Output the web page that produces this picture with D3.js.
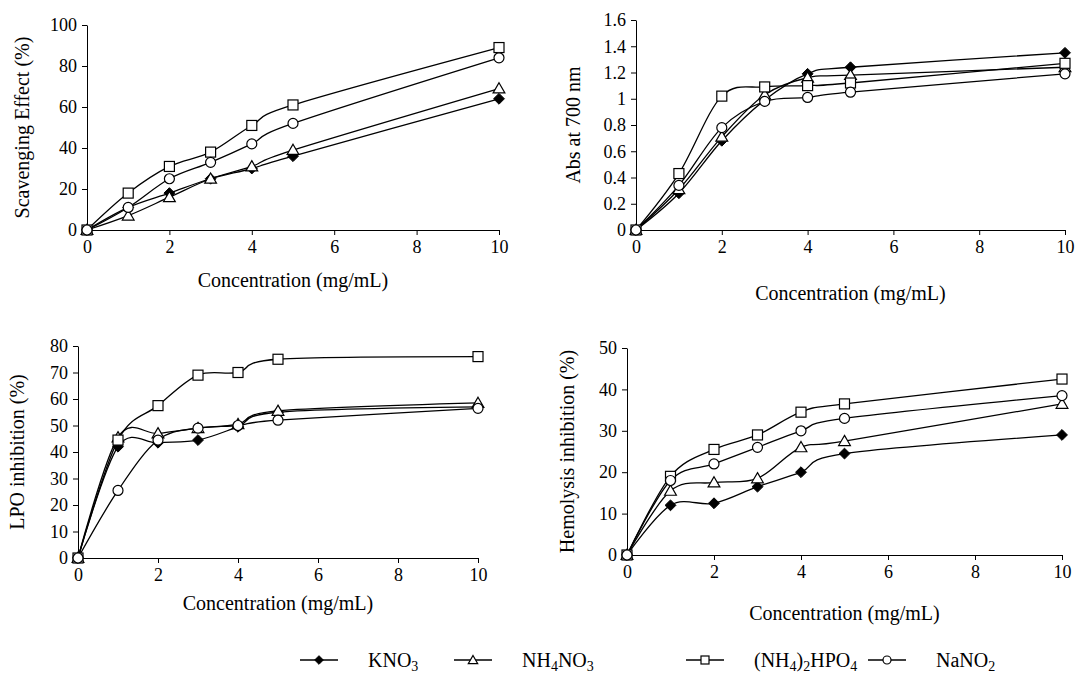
<!DOCTYPE html>
<html>
<head>
<meta charset="utf-8">
<script src="https://cdn.jsdelivr.net/npm/d3@7"></script>
<style>
body { margin: 0; background: #fff; }
text { font-family: "Liberation Serif", "Times New Roman", "DejaVu Serif", serif; fill: #000; }
</style>
</head>
<body>
<div id="chart"></div>
<script>
var conc = [0, 1, 2, 3, 4, 5, 10];
var seriesNames = ["KNO3", "NH4NO3", "(NH4)2HPO4", "NaNO2"];
var seriesMarks = ["diamond", "triangle", "square", "circle"];

// panel values, one array per series (KNO3, NH4NO3, (NH4)2HPO4, NaNO2)
var scavKNO3 = [0, 11, 18, 25, 30, 36, 64];
var scavNH4NO3 = [0, 7, 16, 25, 31, 39, 69];
var scavHPO4 = [0, 18, 31, 38, 51, 61, 89];
var scavNaNO2 = [0, 11, 25, 33, 42, 52, 84];

var absKNO3 = [0, 0.28, 0.68, 0.99, 1.19, 1.24, 1.35];
var absNH4NO3 = [0, 0.31, 0.71, 1.03, 1.16, 1.18, 1.24];
var absHPO4 = [0, 0.43, 1.02, 1.09, 1.10, 1.12, 1.27];
var absNaNO2 = [0, 0.34, 0.78, 0.98, 1.01, 1.05, 1.19];

var lpoKNO3 = [0, 42, 43.5, 44.5, 49.5, 55, 57];
var lpoNH4NO3 = [0, 45.5, 47, 49, 50.5, 55.5, 58.5];
var lpoHPO4 = [0, 44.5, 57.5, 69, 70, 75, 76];
var lpoNaNO2 = [0, 25.5, 44.5, 49, 50, 52, 56.5];

var hemoKNO3 = [0, 12, 12.5, 16.5, 20, 24.5, 29];
var hemoNH4NO3 = [0, 15.5, 17.5, 18.5, 26, 27.5, 36.5];
var hemoHPO4 = [0, 19, 25.5, 29, 34.5, 36.5, 42.5];
var hemoNaNO2 = [0, 18, 22, 26, 30, 33, 38.5];

var xTicks = [0, 2, 4, 6, 8, 10];
var scavTicks = [0, 20, 40, 60, 80, 100];
var absTicks = [0, 0.2, 0.4, 0.6, 0.8, 1, 1.2, 1.4, 1.6];
var lpoTicks = [0, 10, 20, 30, 40, 50, 60, 70, 80];
var hemoTicks = [0, 10, 20, 30, 40, 50];

var w = 1075, h = 681;

var panels = [
  {left: 87, right: 499, top: 25, bottom: 230, ymax: 100, ticks: scavTicks,
   ytitle: "Scavenging Effect (%)", ytx: 22, xty: 287,
   series: [scavKNO3, scavNH4NO3, scavHPO4, scavNaNO2]},
  {left: 636, right: 1065, top: 20, bottom: 230, ymax: 1.6, ticks: absTicks,
   ytitle: "Abs at 700 nm", ytx: 573, xty: 300,
   series: [absKNO3, absNH4NO3, absHPO4, absNaNO2]},
  {left: 78, right: 478, top: 346, bottom: 558, ymax: 80, ticks: lpoTicks,
   ytitle: "LPO inhibition (%)", ytx: 17, xty: 610,
   series: [lpoKNO3, lpoNH4NO3, lpoHPO4, lpoNaNO2]},
  {left: 627, right: 1062, top: 348, bottom: 555, ymax: 50, ticks: hemoTicks,
   ytitle: "Hemolysis inhibition (%)", ytx: 567, xty: 620,
   series: [hemoKNO3, hemoNH4NO3, hemoHPO4, hemoNaNO2]}
];

var svg = d3.select("#chart").append("svg")
  .attr("width", w)
  .attr("height", h);

function drawMark(g, type, cx, cy, s) {
  s = s || 1;
  if (type == "diamond") {
    g.append("path").attr("d", d3.symbol(d3.symbolDiamond2, 75 * s * s)())
      .attr("transform", "translate(" + cx + "," + cy + ")")
      .attr("fill", "#000").attr("stroke", "#000");
  } else if (type == "triangle") {
    g.append("path").attr("d", d3.symbol(d3.symbolTriangle, 60 * s * s)())
      .attr("transform", "translate(" + cx + "," + (cy + 1) + ")")
      .attr("fill", "#fff").attr("stroke", "#000").attr("stroke-width", 1.2);
  } else if (type == "square") {
    g.append("rect").attr("x", cx - 5 * s).attr("y", cy - 5 * s)
      .attr("width", 10 * s).attr("height", 10 * s)
      .attr("fill", "#fff").attr("stroke", "#000").attr("stroke-width", 1.2);
  } else {
    g.append("circle").attr("cx", cx).attr("cy", cy).attr("r", 5 * s)
      .attr("fill", "#fff").attr("stroke", "#000").attr("stroke-width", 1.2);
  }
}

panels.forEach(function(p) {
  var x = d3.scaleLinear().domain([0, 10]).range([p.left, p.right]);
  var y = d3.scaleLinear().domain([0, p.ymax]).range([p.bottom, p.top]);
  var g = svg.append("g");

  var xAxis = d3.axisBottom(x).tickValues(xTicks).tickSize(5).tickSizeOuter(0).tickPadding(5);
  var yAxis = d3.axisLeft(y).tickValues(p.ticks).tickFormat(d3.format("~g"))
    .tickSize(5).tickSizeOuter(0).tickPadding(5);

  var gx = g.append("g").attr("transform", "translate(0," + p.bottom + ")").call(xAxis);
  var gy = g.append("g").attr("transform", "translate(" + p.left + ",0)").call(yAxis);
  [gx, gy].forEach(function(a) {
    a.attr("font-family", null).attr("font-size", null);
    a.selectAll("text").style("font-size", "18px");
    a.selectAll("line").attr("stroke", "#000");
    a.select(".domain").attr("stroke", "#000");
  });

  g.append("text")
    .attr("x", (p.left + p.right) / 2)
    .attr("y", p.xty)
    .attr("text-anchor", "middle")
    .style("font-size", "20px")
    .text("Concentration (mg/mL)");

  g.append("text")
    .attr("transform", "translate(" + p.ytx + "," + ((p.top + p.bottom) / 2) + ") rotate(-90)")
    .attr("text-anchor", "middle")
    .attr("dy", "0.35em")
    .style("font-size", "20px")
    .text(p.ytitle);

  var line = d3.line()
    .x(function(d, i) { return x(conc[i]); })
    .y(function(d) { return y(d); })
    .curve(d3.curveCatmullRom.alpha(0));

  p.series.forEach(function(vals) {
    g.append("path")
      .attr("d", line(vals))
      .attr("fill", "none")
      .attr("stroke", "#000")
      .attr("stroke-width", 1.3);
  });
  p.series.forEach(function(vals, k) {
    vals.forEach(function(v, i) {
      drawMark(g, seriesMarks[k], x(conc[i]), y(v));
    });
  });
});

// legend
var legendX = [300, 454, 686, 868];
var legendParts = [
  [["KNO", 0], ["3", 1]],
  [["NH", 0], ["4", 1], ["NO", 0], ["3", 1]],
  [["(NH", 0], ["4", 1], [")", 0], ["2", 1], ["HPO", 0], ["4", 1]],
  [["NaNO", 0], ["2", 1]]
];
var lg = svg.append("g");
legendX.forEach(function(lx, k) {
  lg.append("line").attr("x1", lx).attr("x2", lx + 38).attr("y1", 660).attr("y2", 660)
    .attr("stroke", "#000").attr("stroke-width", 1.3);
  drawMark(lg, seriesMarks[k], lx + 19, 660, 0.8);
  var t = lg.append("text").attr("x", lx + 68).attr("y", 667).style("font-size", "20px");
  legendParts[k].forEach(function(part, j) {
    var s = t.append("tspan").text(part[0]);
    if (part[1]) s.style("font-size", "14px").attr("dy", 4);
    else if (j > 0) s.attr("dy", -4);
  });
});
</script>
</body>
</html>
